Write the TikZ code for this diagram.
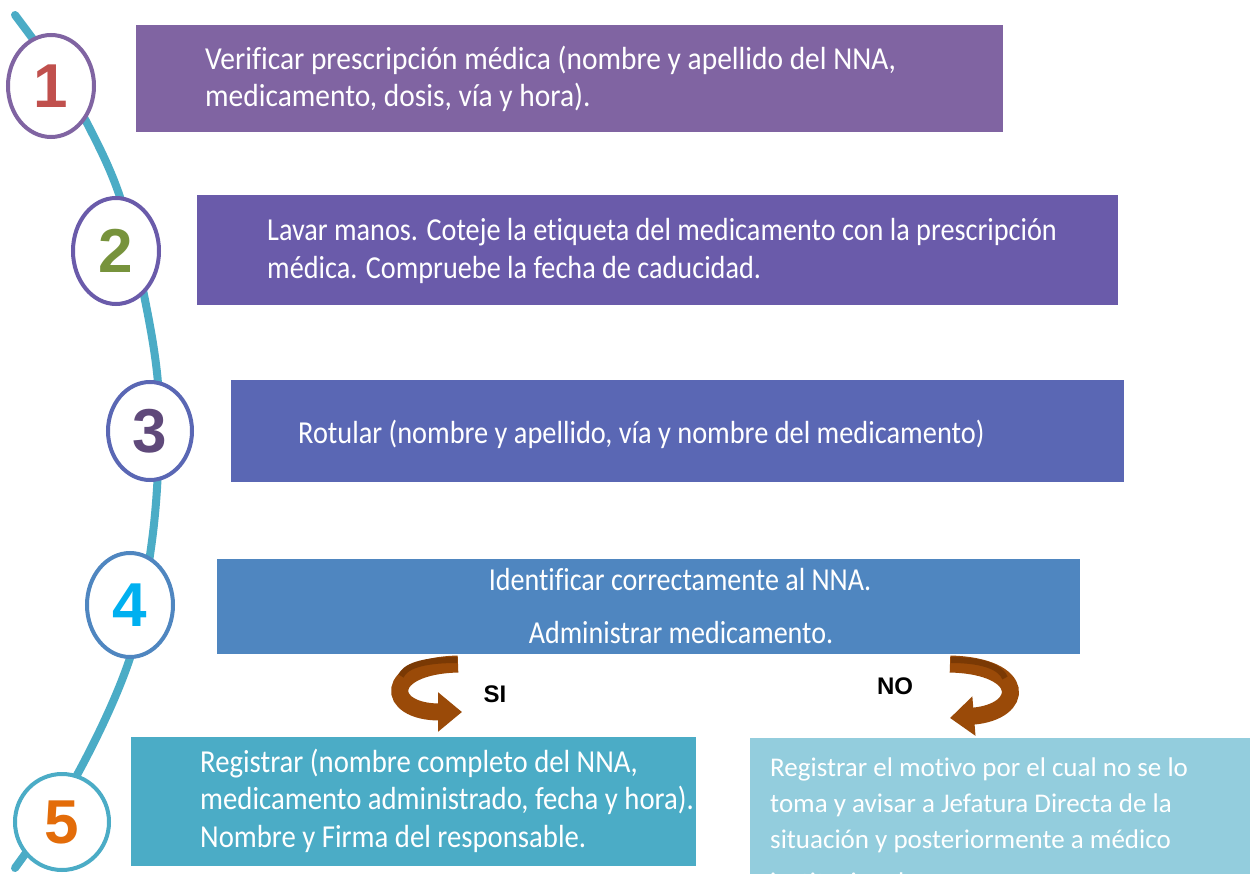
\documentclass[tikz,border=0pt]{standalone}
\usepackage{fontspec}
\setmainfont{Carlito}
\newfontfamily\numfont{Liberation Sans}
\newfontfamily\fA[FakeStretch=0.92,Ligatures=NoCommon]{Carlito}
\newfontfamily\fB[FakeStretch=0.882,Ligatures=NoCommon]{Carlito}
\newfontfamily\fC[FakeStretch=0.886,Ligatures=NoCommon]{Carlito}
\newfontfamily\fD[FakeStretch=0.877,Ligatures=NoCommon]{Carlito}
\newfontfamily\fE[FakeStretch=0.898,Ligatures=NoCommon]{Carlito}
\newfontfamily\fF[Ligatures=NoCommon]{Carlito}
\usetikzlibrary{shapes.geometric,arrows.meta}
\definecolor{cA}{HTML}{8064A2}
\definecolor{cB}{HTML}{6A5BAA}
\definecolor{cC}{HTML}{5A67B4}
\definecolor{cD}{HTML}{4F86C0}
\definecolor{cE}{HTML}{4BACC6}
\definecolor{cF}{HTML}{93CDDD}
\definecolor{tline}{HTML}{4BACC6}
\definecolor{nred}{HTML}{C0504D}
\definecolor{ngreen}{HTML}{77933C}
\definecolor{npurple}{HTML}{5F497A}
\definecolor{ncyan}{HTML}{00B0F0}
\definecolor{norange}{HTML}{E36C09}
\definecolor{brown}{HTML}{9A4A08}
\definecolor{dbrown}{HTML}{7A3904}
\tikzset{
  stepbox/.style={rectangle, inner sep=0pt, draw=none},
  numcirc/.style={ellipse, draw, line width=4pt, fill=white, inner sep=0pt,
    minimum width=86pt, minimum height=102pt, font=\numfont\bfseries\fontsize{62}{62}\selectfont},
  ln/.style={inner sep=0pt, text=white, anchor=base west},
  lnc/.style={inner sep=0pt, text=white, anchor=base},
  bentarrow/.style={draw=brown, line width=17pt, -{Triangle[length=24pt,width=38pt]}},
  lbl/.style={inner sep=0pt, font=\numfont\bfseries\fontsize{24}{24}\selectfont}
}
\begin{document}
\begin{tikzpicture}[x=1pt,y=-1pt]
\useasboundingbox (0,0) rectangle (1255,874);
\fill[white] (0,0) rectangle (1255,874);
% timeline curve
\draw[tline, line width=8pt, line cap=round] plot[smooth, tension=0.6] coordinates
  {(15,15) (55,70) (88,125) (120,197) (143,290) (158,383) (158,470) (150,555) (130,658) (77,775) (15,868)};
% boxes
\node[stepbox, fill=cA, minimum width=867pt, minimum height=107pt, anchor=north west] (b1) at (136,25) {};
\node[stepbox, fill=cB, minimum width=921pt, minimum height=110pt, anchor=north west] (b2) at (197,195) {};
\node[stepbox, fill=cC, minimum width=893pt, minimum height=102pt, anchor=north west] (b3) at (231,380) {};
\node[stepbox, fill=cD, minimum width=863pt, minimum height=95pt, anchor=north west] (b4) at (217,559) {};
\node[stepbox, fill=cE, minimum width=565pt, minimum height=129pt, anchor=north west] (b5) at (131,737) {};
\node[stepbox, fill=cF, minimum width=500pt, minimum height=140pt, anchor=north west] (b6) at (750,738) {};
% texts
\begin{scope}[font=\fA\fontsize{32}{38}\selectfont]
\node[ln] (t1a) at (205,70) {Verificar prescripción médica (nombre y apellido del NNA,};
\node[ln] (t1b) at (205,107) {medicamento, dosis, vía y hora).};
\end{scope}
\begin{scope}[font=\fB\fontsize{32}{38}\selectfont]
\node[ln] (t2a) at (267,241) {Lavar manos. Coteje la etiqueta del medicamento con la prescripción};
\node[ln] (t2b) at (267,279) {médica. Compruebe la fecha de caducidad.};
\end{scope}
\node[ln, font=\fC\fontsize{32}{38}\selectfont] (t3) at (298,443) {Rotular (nombre y apellido, vía y nombre del medicamento)};
\begin{scope}[font=\fD\fontsize{32}{38}\selectfont]
\node[lnc] (t4a) at (680,590) {Identificar correctamente al NNA.};
\node[lnc] (t4b) at (681,643) {Administrar medicamento.};
\end{scope}
\begin{scope}[font=\fE\fontsize{32}{38}\selectfont]
\node[ln] (t5a) at (200,772) {Registrar (nombre completo del NNA,};
\node[ln] (t5b) at (200,809.5) {medicamento administrado, fecha y hora).};
\node[ln] (t5c) at (200,847) {Nombre y Firma del responsable.};
\end{scope}
\begin{scope}[font=\fF\fontsize{27}{36}\selectfont]
\node[ln] (t6a) at (770,776) {Registrar el motivo por el cual no se lo};
\node[ln] (t6b) at (770,812) {toma y avisar a Jefatura Directa de la};
\node[ln] (t6c) at (770,848) {situación y posteriormente a médico};
\node[ln] (t6d) at (770,891) {institucional.};
\end{scope}
% circles
\node[numcirc, draw=cA, text=nred] (c1) at (51,86) {1};
\node[numcirc, draw=cB, text=ngreen, minimum height=106pt] (c2) at (116,251) {2};
\node[numcirc, draw=cC, text=npurple, minimum width=84pt, minimum height=98pt] (c3) at (150,431) {3};
\node[numcirc, draw=cD, text=ncyan, minimum height=104pt] (c4) at (130,605) {4};
\node[numcirc, draw=cE, text=norange, minimum width=94pt, minimum height=96pt] (c5) at (62,822) {5};
% bent arrows
\coordinate (s1) at (458,664);
\coordinate (e1) at (462,712);
\draw[bentarrow] (s1) .. controls (382,666) and (385,712) .. (e1);
\draw[dbrown, line width=6pt] (457,660) .. controls (420,660) and (405,667) .. (401,676);
\node[lbl] (si) at (495,694) {SI};
\coordinate (s2) at (950,664);
\coordinate (e2) at (950,718);
\draw[bentarrow] (s2) .. controls (1028,666) and (1025,712) .. (e2);
\draw[dbrown, line width=6pt] (951,660) .. controls (985,660) and (1001,668) .. (1005,678);
\node[lbl] (no) at (895,686) {NO};
\end{tikzpicture}
\end{document}
